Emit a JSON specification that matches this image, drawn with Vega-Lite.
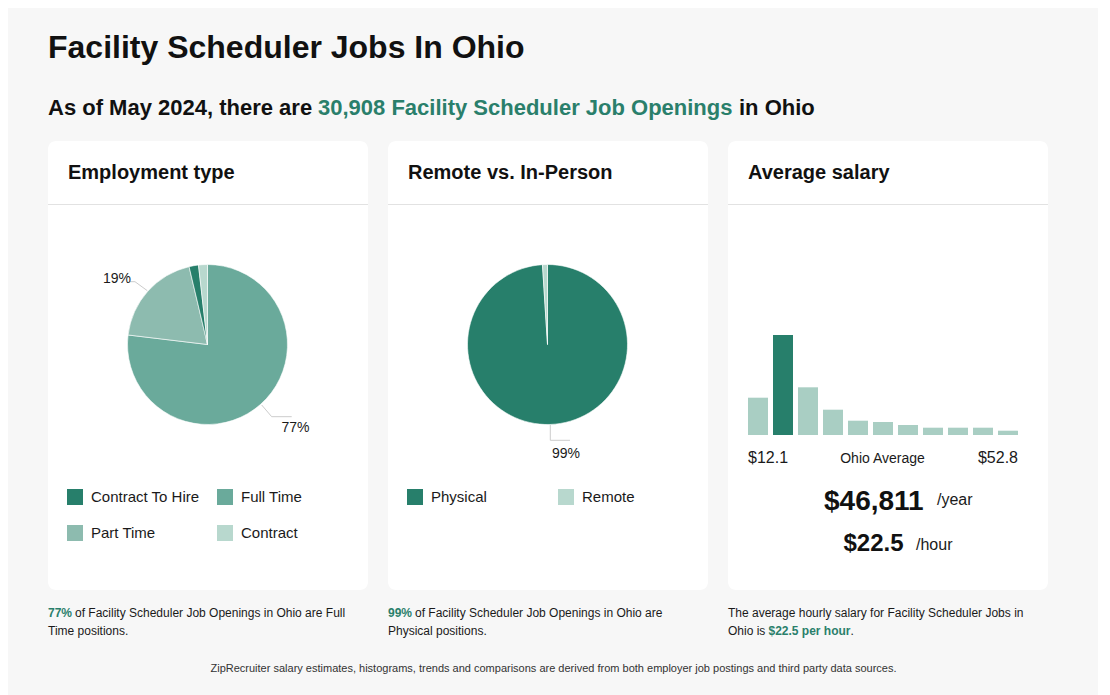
{
  "$schema": "https://vega.github.io/schema/vega-lite/v6.json",
  "width": 1110,
  "height": 695,
  "autosize": {"type": "none"},
  "padding": 0,
  "background": "white",
  "config": {"font": "Liberation Sans", "view": {"stroke": null}, "legend": {"labelFont": "Liberation Sans"}},
  "layer": [
    {
      "data": {"values": [{}]},
      "resolve": {"scale": {"color": "independent", "theta": "independent"}},
      "layer": [
        {"mark": {"type": "rect", "color": "#f7f7f7"},
         "encoding": {
           "x": {"datum": 8, "type": "quantitative", "axis": null, "scale": {"domain": [0, 1110], "nice": false, "zero": false}},
           "x2": {"datum": 1098},
           "y": {"datum": 8, "type": "quantitative", "axis": null, "scale": {"domain": [0, 695], "nice": false, "zero": false, "reverse": true}},
           "y2": {"datum": 700}}},
        {"mark": {"type": "rect", "color": "white", "cornerRadius": 8},
         "encoding": {"x": {"datum": 48, "type": "quantitative", "axis": null}, "x2": {"datum": 368}, "y": {"datum": 141, "type": "quantitative", "axis": null}, "y2": {"datum": 590}}},
        {"mark": {"type": "rect", "color": "white", "cornerRadius": 8},
         "encoding": {"x": {"datum": 388, "type": "quantitative", "axis": null}, "x2": {"datum": 708}, "y": {"datum": 141, "type": "quantitative", "axis": null}, "y2": {"datum": 590}}},
        {"mark": {"type": "rect", "color": "white", "cornerRadius": 8},
         "encoding": {"x": {"datum": 728, "type": "quantitative", "axis": null}, "x2": {"datum": 1048}, "y": {"datum": 141, "type": "quantitative", "axis": null}, "y2": {"datum": 590}}},
        {"mark": {"type": "rule", "color": "#e2e2e2", "strokeWidth": 1},
         "encoding": {"x": {"datum": 48, "type": "quantitative", "axis": null}, "x2": {"datum": 368}, "y": {"datum": 204.5, "type": "quantitative", "axis": null}, "y2": {"datum": 204.5}}},
        {"mark": {"type": "rule", "color": "#e2e2e2", "strokeWidth": 1},
         "encoding": {"x": {"datum": 388, "type": "quantitative", "axis": null}, "x2": {"datum": 708}, "y": {"datum": 204.5, "type": "quantitative", "axis": null}, "y2": {"datum": 204.5}}},
        {"mark": {"type": "rule", "color": "#e2e2e2", "strokeWidth": 1},
         "encoding": {"x": {"datum": 728, "type": "quantitative", "axis": null}, "x2": {"datum": 1048}, "y": {"datum": 204.5, "type": "quantitative", "axis": null}, "y2": {"datum": 204.5}}},

        {"mark": {"type": "text", "text": "Facility Scheduler Jobs In Ohio", "align": "left", "baseline": "alphabetic", "fontSize": 32, "fontWeight": "bold", "color": "#111"},
         "encoding": {"x": {"datum": 48, "type": "quantitative", "axis": null}, "y": {"datum": 58, "type": "quantitative", "axis": null}}},
        {"mark": {"type": "text", "text": "As of May 2024, there are", "align": "left", "baseline": "alphabetic", "fontSize": 22, "fontWeight": "bold", "color": "#111"},
         "encoding": {"x": {"datum": 48, "type": "quantitative", "axis": null}, "y": {"datum": 115, "type": "quantitative", "axis": null}}},
        {"mark": {"type": "text", "text": "30,908 Facility Scheduler Job Openings", "align": "left", "baseline": "alphabetic", "fontSize": 22, "fontWeight": "bold", "color": "#2a7f6b"},
         "encoding": {"x": {"datum": 318, "type": "quantitative", "axis": null}, "y": {"datum": 115, "type": "quantitative", "axis": null}}},
        {"mark": {"type": "text", "text": "in Ohio", "align": "left", "baseline": "alphabetic", "fontSize": 22, "fontWeight": "bold", "color": "#111"},
         "encoding": {"x": {"datum": 739, "type": "quantitative", "axis": null}, "y": {"datum": 115, "type": "quantitative", "axis": null}}},

        {"mark": {"type": "text", "text": "Employment type", "align": "left", "baseline": "alphabetic", "fontSize": 20, "fontWeight": "bold", "color": "#111"},
         "encoding": {"x": {"datum": 68, "type": "quantitative", "axis": null}, "y": {"datum": 179, "type": "quantitative", "axis": null}}},
        {"mark": {"type": "text", "text": "Remote vs. In-Person", "align": "left", "baseline": "alphabetic", "fontSize": 20, "fontWeight": "bold", "color": "#111"},
         "encoding": {"x": {"datum": 408, "type": "quantitative", "axis": null}, "y": {"datum": 179, "type": "quantitative", "axis": null}}},
        {"mark": {"type": "text", "text": "Average salary", "align": "left", "baseline": "alphabetic", "fontSize": 20, "fontWeight": "bold", "color": "#111"},
         "encoding": {"x": {"datum": 748, "type": "quantitative", "axis": null}, "y": {"datum": 179, "type": "quantitative", "axis": null}}},

        {"data": {"values": [
            {"type": "Full Time", "share": 76.9},
            {"type": "Part Time", "share": 19.4},
            {"type": "Contract To Hire", "share": 1.9},
            {"type": "Contract", "share": 1.8}]},
         "transform": [
           {"window": [{"op": "row_number", "as": "idx"}]},
           {"stack": "share", "groupby": [], "sort": [{"field": "idx", "order": "ascending"}], "as": ["t0", "t1"]}],
         "mark": {"type": "arc", "outerRadius": 80, "stroke": "white", "strokeWidth": 0.6},
         "encoding": {
           "theta": {"field": "t0", "type": "quantitative", "stack": null, "scale": {"domain": [0, 100]}},
           "theta2": {"field": "t1"},
           "x": {"datum": 207.5, "type": "quantitative", "axis": null, "stack": null},
           "y": {"datum": 344.5, "type": "quantitative", "axis": null, "stack": null},
           "color": {"field": "type", "type": "nominal",
             "scale": {"domain": ["Contract To Hire", "Full Time", "Part Time", "Contract"], "range": ["#277f6b", "#6aaa9b", "#8dbbaf", "#b8d8ce"]},
             "legend": {"title": null, "orient": "none", "direction": "horizontal", "legendX": 67, "legendY": 489, "columns": 2, "symbolType": "square", "symbolSize": 256, "symbolStrokeWidth": 0, "labelFontSize": 15, "labelOffset": 8, "columnPadding": 17, "rowPadding": 20, "labelColor": "#1a1a1a", "padding": 0}}}},

        {"data": {"values": [
            {"type": "Physical", "share": 99},
            {"type": "Remote", "share": 1}]},
         "transform": [
           {"window": [{"op": "row_number", "as": "idx"}]},
           {"stack": "share", "groupby": [], "sort": [{"field": "idx", "order": "ascending"}], "as": ["t0", "t1"]}],
         "mark": {"type": "arc", "outerRadius": 80, "stroke": "white", "strokeWidth": 0.6},
         "encoding": {
           "theta": {"field": "t0", "type": "quantitative", "stack": null, "scale": {"domain": [0, 100]}},
           "theta2": {"field": "t1"},
           "x": {"datum": 547.5, "type": "quantitative", "axis": null, "stack": null},
           "y": {"datum": 344.5, "type": "quantitative", "axis": null, "stack": null},
           "color": {"field": "type", "type": "nominal",
             "scale": {"domain": ["Physical", "Remote"], "range": ["#277f6b", "#b8d8ce"]},
             "legend": {"title": null, "orient": "none", "direction": "horizontal", "legendX": 407, "legendY": 489, "columns": 2, "symbolType": "square", "symbolSize": 256, "symbolStrokeWidth": 0, "labelFontSize": 15, "labelOffset": 8, "columnPadding": 71, "rowPadding": 20, "labelColor": "#1a1a1a", "padding": 0}}}},

        {"mark": {"type": "rule", "color": "#cccccc", "strokeWidth": 1},
         "encoding": {"x": {"datum": 130, "type": "quantitative", "axis": null}, "x2": {"datum": 135}, "y": {"datum": 281.7, "type": "quantitative", "axis": null}, "y2": {"datum": 281.7}}},
        {"mark": {"type": "rule", "color": "#cccccc", "strokeWidth": 1},
         "encoding": {"x": {"datum": 135, "type": "quantitative", "axis": null}, "x2": {"datum": 147.3}, "y": {"datum": 281.7, "type": "quantitative", "axis": null}, "y2": {"datum": 290.7}}},
        {"mark": {"type": "rule", "color": "#cccccc", "strokeWidth": 1},
         "encoding": {"x": {"datum": 261.7, "type": "quantitative", "axis": null}, "x2": {"datum": 271.7}, "y": {"datum": 405, "type": "quantitative", "axis": null}, "y2": {"datum": 416.7}}},
        {"mark": {"type": "rule", "color": "#cccccc", "strokeWidth": 1},
         "encoding": {"x": {"datum": 271.7, "type": "quantitative", "axis": null}, "x2": {"datum": 291.7}, "y": {"datum": 416.7, "type": "quantitative", "axis": null}, "y2": {"datum": 416.7}}},
        {"mark": {"type": "rule", "color": "#cccccc", "strokeWidth": 1},
         "encoding": {"x": {"datum": 550.3, "type": "quantitative", "axis": null}, "x2": {"datum": 550.3}, "y": {"datum": 425, "type": "quantitative", "axis": null}, "y2": {"datum": 440.3}}},
        {"mark": {"type": "rule", "color": "#cccccc", "strokeWidth": 1},
         "encoding": {"x": {"datum": 550.3, "type": "quantitative", "axis": null}, "x2": {"datum": 570}, "y": {"datum": 440.3, "type": "quantitative", "axis": null}, "y2": {"datum": 440.3}}},

        {"mark": {"type": "text", "text": "19%", "align": "left", "baseline": "alphabetic", "fontSize": 14, "color": "#1a1a1a"},
         "encoding": {"x": {"datum": 103, "type": "quantitative", "axis": null}, "y": {"datum": 282.5, "type": "quantitative", "axis": null}}},
        {"mark": {"type": "text", "text": "77%", "align": "left", "baseline": "alphabetic", "fontSize": 14, "color": "#1a1a1a"},
         "encoding": {"x": {"datum": 281.5, "type": "quantitative", "axis": null}, "y": {"datum": 431.5, "type": "quantitative", "axis": null}}},
        {"mark": {"type": "text", "text": "99%", "align": "left", "baseline": "alphabetic", "fontSize": 14, "color": "#1a1a1a"},
         "encoding": {"x": {"datum": 552, "type": "quantitative", "axis": null}, "y": {"datum": 458, "type": "quantitative", "axis": null}}},

        {"mark": {"type": "text", "text": "$12.1", "align": "left", "baseline": "alphabetic", "fontSize": 16, "color": "#1a1a1a"},
         "encoding": {"x": {"datum": 748, "type": "quantitative", "axis": null}, "y": {"datum": 463, "type": "quantitative", "axis": null}}},
        {"mark": {"type": "text", "text": "Ohio Average", "align": "center", "baseline": "alphabetic", "fontSize": 14, "color": "#1a1a1a"},
         "encoding": {"x": {"datum": 882.5, "type": "quantitative", "axis": null}, "y": {"datum": 463, "type": "quantitative", "axis": null}}},
        {"mark": {"type": "text", "text": "$52.8", "align": "right", "baseline": "alphabetic", "fontSize": 16, "color": "#1a1a1a"},
         "encoding": {"x": {"datum": 1018, "type": "quantitative", "axis": null}, "y": {"datum": 463, "type": "quantitative", "axis": null}}},
        {"mark": {"type": "text", "text": "$46,811", "align": "left", "baseline": "alphabetic", "fontSize": 28, "fontWeight": "bold", "color": "#111"},
         "encoding": {"x": {"datum": 824, "type": "quantitative", "axis": null}, "y": {"datum": 509.5, "type": "quantitative", "axis": null}}},
        {"mark": {"type": "text", "text": "/year", "align": "left", "baseline": "alphabetic", "fontSize": 16, "color": "#1a1a1a"},
         "encoding": {"x": {"datum": 937, "type": "quantitative", "axis": null}, "y": {"datum": 505, "type": "quantitative", "axis": null}}},
        {"mark": {"type": "text", "text": "$22.5", "align": "left", "baseline": "alphabetic", "fontSize": 24, "fontWeight": "bold", "color": "#111"},
         "encoding": {"x": {"datum": 843.5, "type": "quantitative", "axis": null}, "y": {"datum": 551, "type": "quantitative", "axis": null}}},
        {"mark": {"type": "text", "text": "/hour", "align": "left", "baseline": "alphabetic", "fontSize": 16, "color": "#1a1a1a"},
         "encoding": {"x": {"datum": 916, "type": "quantitative", "axis": null}, "y": {"datum": 549.5, "type": "quantitative", "axis": null}}},

        {"mark": {"type": "text", "text": "77%", "align": "left", "baseline": "alphabetic", "fontSize": 12, "fontWeight": "bold", "color": "#2a7f6b"},
         "encoding": {"x": {"datum": 48, "type": "quantitative", "axis": null}, "y": {"datum": 616.5, "type": "quantitative", "axis": null}}},
        {"mark": {"type": "text", "text": "of Facility Scheduler Job Openings in Ohio are Full", "align": "left", "baseline": "alphabetic", "fontSize": 12, "color": "#1a1a1a"},
         "encoding": {"x": {"datum": 75, "type": "quantitative", "axis": null}, "y": {"datum": 616.5, "type": "quantitative", "axis": null}}},
        {"mark": {"type": "text", "text": "Time positions.", "align": "left", "baseline": "alphabetic", "fontSize": 12, "color": "#1a1a1a"},
         "encoding": {"x": {"datum": 48, "type": "quantitative", "axis": null}, "y": {"datum": 634.5, "type": "quantitative", "axis": null}}},
        {"mark": {"type": "text", "text": "99%", "align": "left", "baseline": "alphabetic", "fontSize": 12, "fontWeight": "bold", "color": "#2a7f6b"},
         "encoding": {"x": {"datum": 388, "type": "quantitative", "axis": null}, "y": {"datum": 616.5, "type": "quantitative", "axis": null}}},
        {"mark": {"type": "text", "text": "of Facility Scheduler Job Openings in Ohio are", "align": "left", "baseline": "alphabetic", "fontSize": 12, "color": "#1a1a1a"},
         "encoding": {"x": {"datum": 415, "type": "quantitative", "axis": null}, "y": {"datum": 616.5, "type": "quantitative", "axis": null}}},
        {"mark": {"type": "text", "text": "Physical positions.", "align": "left", "baseline": "alphabetic", "fontSize": 12, "color": "#1a1a1a"},
         "encoding": {"x": {"datum": 388, "type": "quantitative", "axis": null}, "y": {"datum": 634.5, "type": "quantitative", "axis": null}}},
        {"mark": {"type": "text", "text": "The average hourly salary for Facility Scheduler Jobs in", "align": "left", "baseline": "alphabetic", "fontSize": 12, "color": "#1a1a1a"},
         "encoding": {"x": {"datum": 728, "type": "quantitative", "axis": null}, "y": {"datum": 616.5, "type": "quantitative", "axis": null}}},
        {"mark": {"type": "text", "text": "Ohio is", "align": "left", "baseline": "alphabetic", "fontSize": 12, "color": "#1a1a1a"},
         "encoding": {"x": {"datum": 728, "type": "quantitative", "axis": null}, "y": {"datum": 634.5, "type": "quantitative", "axis": null}}},
        {"mark": {"type": "text", "text": "$22.5 per hour", "align": "left", "baseline": "alphabetic", "fontSize": 12, "fontWeight": "bold", "color": "#2a7f6b"},
         "encoding": {"x": {"datum": 768.5, "type": "quantitative", "axis": null}, "y": {"datum": 634.5, "type": "quantitative", "axis": null}}},
        {"mark": {"type": "text", "text": ".", "align": "left", "baseline": "alphabetic", "fontSize": 12, "color": "#1a1a1a"},
         "encoding": {"x": {"datum": 850.5, "type": "quantitative", "axis": null}, "y": {"datum": 634.5, "type": "quantitative", "axis": null}}},

        {"mark": {"type": "text", "text": "ZipRecruiter salary estimates, histograms, trends and comparisons are derived from both employer job postings and third party data sources.", "align": "center", "baseline": "alphabetic", "fontSize": 11, "color": "#333333"},
         "encoding": {"x": {"datum": 553.5, "type": "quantitative", "axis": null}, "y": {"datum": 672, "type": "quantitative", "axis": null}}}
      ]
    },
    {
      "data": {"values": [
        {"bin": 1, "share": 37.3, "avg_bin": "no"},
        {"bin": 2, "share": 100, "avg_bin": "yes"},
        {"bin": 3, "share": 47.7, "avg_bin": "no"},
        {"bin": 4, "share": 25.3, "avg_bin": "no"},
        {"bin": 5, "share": 14.3, "avg_bin": "no"},
        {"bin": 6, "share": 13, "avg_bin": "no"},
        {"bin": 7, "share": 10, "avg_bin": "no"},
        {"bin": 8, "share": 7.3, "avg_bin": "no"},
        {"bin": 9, "share": 7.3, "avg_bin": "no"},
        {"bin": 10, "share": 7.3, "avg_bin": "no"},
        {"bin": 11, "share": 4.3, "avg_bin": "no"}
      ]},
      "mark": {"type": "bar"},
      "encoding": {
        "x": {"field": "bin", "type": "ordinal", "axis": null, "scale": {"range": [748, 1018], "paddingInner": 0.2, "paddingOuter": 0}},
        "y": {"field": "share", "type": "quantitative", "axis": null, "scale": {"domain": [0, 100], "range": [435, 335], "nice": false}},
        "color": {"field": "avg_bin", "type": "nominal", "legend": null, "scale": {"domain": ["no", "yes"], "range": ["#a9cec3", "#277f6b"]}}
      }
    }
  ],
  "resolve": {"scale": {"x": "independent", "y": "independent", "color": "independent"}}
}
